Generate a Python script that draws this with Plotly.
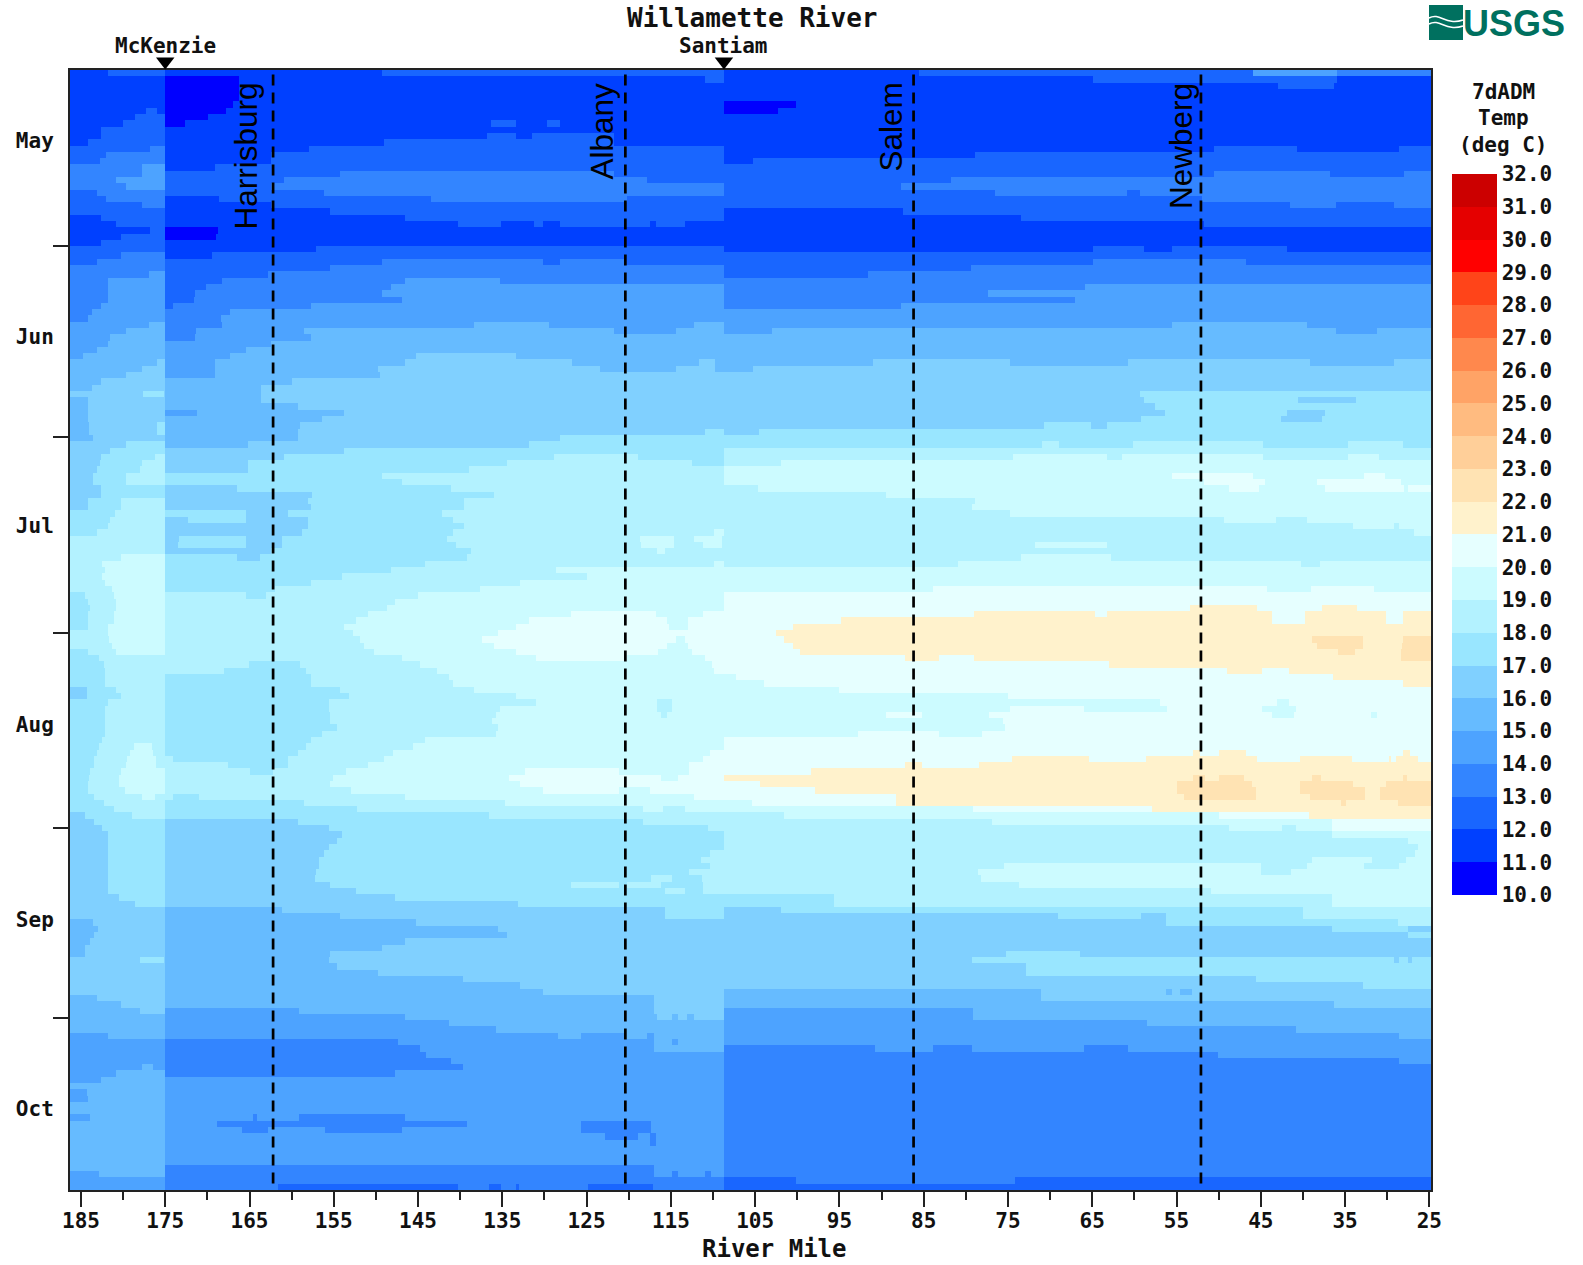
import numpy as np
import plotly.graph_objects as go

# ---- data -----------------------------------------------------------------
# Each reach: (first_row, [bin, mile, bin, mile, bin ...]) read from upstream to
# downstream; a block holds until the next first_row. A bin b means b..b+1 deg C.
REACH_EDGES = [186.3, 175.0, 108.7, 24.8]

REACH_A = [
(0,[11,181.8,12]),(1,[11]),(6,[11,177.3,12,176,11]),(7,[11,178.6,12]),(8,[11,180,12]),(9,[11,182.6,12]),
(11,[11,184.2,12]),(12,[12,176.8,13]),(13,[12,182,13]),(14,[12,182.7,13]),(15,[13,177.7,14]),(17,[13,180.8,14]),
(18,[13,179.7,14]),(19,[12,183.1,13]),(20,[12,182,13]),(21,[12,177.8,13]),(22,[12]),(23,[11,182.6,12]),
(24,[11,180.9,12]),(25,[11,176.8,12]),(26,[11,180.2,12]),(27,[11,182.6,12]),(28,[12]),(29,[12,180.2,13]),
(30,[12,183.1,13]),(31,[13]),(32,[13,176.9,14]),(33,[13,181.8,14]),(37,[13,182.6,14]),(38,[13,183.7,14]),
(39,[13,184.2,14]),(40,[14,176.9,15]),(41,[14,179.7,15]),(42,[14,181.5,15]),(43,[14,181.8,15]),(44,[14,183.1,15]),
(45,[14,184.7,15]),(46,[15,176,16]),(47,[15,177.8,16]),(48,[15,179.7,16]),(49,[15,182.6,16]),(50,[15,183.7,16]),
(51,[16,177.6,17,175.2,16]),(52,[15,184.2,16]),(56,[15,184.1,16,176,17]),(58,[15,183.6,16]),(59,[16,179.7,17]),
(60,[16,181.5,17]),(61,[16,182.6,17,176.25,18]),(62,[16,182.7,17,177.8,18]),(63,[16,183.1,17,177.95,18]),
(64,[16,183.6,17,179.7,18]),(66,[16,182.6,17]),(68,[16,184.2,17,180.2,18]),(70,[17,181,18]),(71,[17,181.5,18]),
(72,[17,181.8,18]),(73,[17,183.1,18]),(74,[18]),(77,[18,180.3,19]),(78,[18,182.45,19]),(79,[18,182.1,19]),
(80,[18,182.45,19]),(81,[18,182.1,19]),(82,[18,181.3,19]),(83,[17,184.5,18,181.1,19]),(84,[17,184.2,18,180.8,19]),
(85,[17,183.9,18,180.9,19]),(86,[17,184.2,18,181.1,19]),(88,[17,184.2,18,181.8,19]),(89,[18,181.8,19]),
(90,[18,181.7,19]),(91,[18,181.3,19]),(92,[17,184.2,18,180.8,19]),(93,[17,182.9,18]),(94,[17,182.3,18]),
(95,[17,182.1,18]),(98,[16,184.3,17,180.8,18]),(99,[16,184.3,17,180.3,18]),(100,[17,181.8,18]),(101,[17,182.1,18]),
(106,[17,182.5,18]),(107,[17,182.9,18,178.75,19,176.6,18]),(108,[17,183.1,18,179.2,19,176.4,18]),
(109,[17,183.5,18,179.5,19,176.1,18]),(110,[17,183.5,18,179.6,19,176.1,18]),(111,[17,183.9,18,180.2,19]),
(112,[17,184.1,18,180.5,19]),(113,[17,184.2,18,180.5,19]),(114,[17,184.2,18,179.8,19]),
(115,[17,183.4,18,177.7,19,176.25,18]),(116,[17,182.3,18]),(117,[17,181.1,18]),(118,[16,184.5,17,179,18]),
(119,[16,183.4,17]),(120,[16,182.5,17]),(121,[16,181.8,17]),(131,[16,180.5,17]),(132,[16,178.6,17]),(133,[16]),
(135,[15,183.6,16]),(136,[15,183,16]),(137,[15,183.5,16]),(138,[15,183.9,16]),(139,[15,184.5,16]),
(141,[16,177.95,17,175.1,16]),(142,[16]),(147,[15,183.1,16]),(148,[15,180.3,16]),(149,[15,177.95,16]),(150,[15]),
(153,[14,181.8,15]),(154,[14]),(158,[14,177.8,15,176.5,14]),(159,[14,180.8,15]),(160,[14,182.6,15]),(161,[15]),
(162,[14,184.3,15]),(163,[14,184.2,15]),(164,[15]),(166,[14,183.9,15]),(167,[15]),(175,[14,182.9,15]),(176,[14]),
]

REACH_B = [
(0,[11,149.3,12]),(1,[10,166.2,11,110.9,12]),(2,[10,166.2,11]),(5,[10,167,11]),(6,[10,167.8,11]),(7,[10,169.9,11]),
(8,[10,172.6,11,136.3,12,133.4,11,129.7,12,128.1,11]),(9,[11]),(10,[11,136.8,12,133.4,11,131.5,12,121.8,11]),
(11,[11,149,12,121.8,11]),(12,[11,157.9,12]),(13,[11,162.5,12]),(15,[11,169.1,12]),(16,[12,154.3,13,121.8,12]),
(17,[12,160.9,13,117.8,12]),(18,[12,162.5,13]),(19,[12,156.2,13]),(20,[11,168.6,12,143.5,13,120.2,12]),
(21,[11,162.5,12]),(22,[11,155.4,12]),(23,[11,146.6,12]),
(24,[11,140.3,12,135.2,11,131.3,12,130.2,11,128.2,12,117.5,11,116.8,12,113.3,11]),(25,[10,168.7,11]),(26,[10,169,11]),
(27,[11]),(28,[11,157.1,12]),(29,[11,169.4,12]),(30,[12,149.3,13,130.2,12,128.2,13,120.4,12]),(31,[12,155.4,13]),
(32,[12,162.8,13]),(33,[12,168.3,13,146.6,14,135.3,13]),(34,[12,170.2,13,148.2,14]),(35,[12,171.5,13,149.3,14]),
(36,[12,171.6,13,146.9,14]),(37,[12,174.1,13,157.7,14]),(38,[13,167.3,14]),(39,[13,168.4,14]),
(40,[13,168.3,14,138.4,15,129.5,14,112.2,15]),(41,[13,171.4,14,158.5,15,121.8,14,114.4,15]),(42,[13,171.5,14,157.7,15]),
(43,[14,162.5,15]),(44,[14,165.4,15]),(45,[14,167.3,15,145.3,16,133.4,15]),
(46,[14,169.1,15,146.6,16,126.7,15,111.7,16,109.8,15]),(47,[14,169.1,15,149.8,16,123.4,15,114.4,16,109.8,15]),
(48,[14,169.1,15,149.5,16]),(49,[15,159.9,16]),(50,[15,163.6,16]),(53,[15,159.3,16]),(54,[14,171.2,15,153.8,16]),
(55,[15,156.4,16]),(56,[15,159,16]),(57,[15,159.3,16,110.9,17]),(58,[15,159.3,16,128.2,17]),(59,[15,165.2,16,131.8,17]),
(60,[16,153.8,17]),(61,[16,160.9,17,128.9,18,118.9,17]),(62,[16,165.2,17,134.5,18,112.5,17]),(63,[16,165.2,17,139,18]),
(64,[17,149.3,18]),(65,[17,146.9,18]),(66,[16,166.5,17,141.1,18]),(67,[16,157.6,17,136,18]),(68,[16,158,17,139.5,18]),
(69,[16,157.7,17,139.5,18]),(70,[17,165.4,16,160.4,17,142.1,18]),(71,[16,172.3,17,165.4,16,158,17,140.8,18]),
(72,[16,158,17,139.5,18]),(73,[16,158.8,17,140.8,18,109.9,19]),
(74,[16,173.4,17,165.4,16,161.2,17,141.6,18,118.7,19,114.6,18,112.2,19,108.9,18]),
(75,[16,173.5,17,165.4,16,161.2,17,140.5,18,118.6,19,114.6,18,111.2,19,108.9,18]),
(76,[16,162.4,17,138.7,18,116.7,19,115.7,18]),(77,[17,166.5,16,163.8,17,139.2,18]),(78,[17,144.2,18,109.9,19]),
(79,[17,148.2,18,128.6,19]),(80,[17,154,18,125,19]),(81,[17,157.7,18,132.9,19]),(82,[17,162,18,137.6,19]),
(83,[18,165.4,17,163,18,145,19]),(84,[18,147.7,19]),(85,[18,148.7,19]),(86,[18,150.9,19,126.8,20,116.8,19,111.2,20]),
(87,[18,152.4,19,131.8,20,115.4,19,113,20]),(88,[18,153.8,19,133.4,20,115.2,19,113,20]),(89,[18,152.7,19,135.5,20]),
(90,[18,151.9,19,137.4,20,114.4,19,113.3,20]),(91,[18,151.4,19,136,20,115.4,19,113,20]),
(92,[18,150.2,19,133.4,20,116.5,19,112.5,20]),(93,[18,146.9,19,131,20,120.2,19,110.9,20]),
(94,[18,165.1,17,159,18,144.8,19,110.1,20]),(95,[18,168,17,158.3,18,142.7,19,109.9,20]),(96,[17,157.7,18,141.3,19]),
(97,[17,157.7,18,140.9,19]),(98,[17,154.3,18,138.4,19]),(99,[17,153.2,18,133.4,19]),
(100,[17,155.6,18,131,19,116.7,18,114.9,19]),(101,[17,155.6,18,135.3,19,116.7,18,114.9,19]),
(102,[17,155.4,18,135.8,19,116.2,18,115.4,19]),(103,[17,155.4,18,136.2,19]),(104,[17,154.6,18,135.5,19]),
(105,[17,156.4,18,135.8,19]),(106,[17,157.7,18,144.2,19]),(107,[17,158.3,18,145.6,19]),(108,[17,159.3,18,148,19,110.4,20]),
(109,[18,174.1,17,160.4,18,149,19,111.2,20]),(110,[18,167.5,17,160.4,18,150.9,19,112.8,20]),
(111,[18,164.9,17,162.2,18,153.5,19,132.3,20,121.2,19,112.8,20]),(112,[18,155.1,19,134.2,20,116.2,19,114.1,20]),
(113,[18,155.4,19,132.9,20]),(114,[18,153,19,130.2,20,121.2,19,117.5,20]),(115,[18,174.1,17,171,18,146.6,19,112.2,20]),
(116,[17,158.5,18,134.7,19]),(117,[17,152.2,18,118.3,19,115.9,18,113.3,19]),(118,[17,136.6,18]),(119,[16,159.3,17,118.3,18]),
(120,[16,155.6,17,110.6,18]),(121,[16,154,17]),(122,[16,154.6,17]),(123,[16,155.6,17]),(124,[16,156.2,17,110.4,18]),
(125,[16,156.7,17,111.4,18]),(126,[16,156.8,17,110.4,18]),(127,[16,157.1,17,112.8,18]),(128,[16,157.2,17,117.3,18,114.9,17,111.3,18]),
(129,[16,155.4,17,126.8,18,121.2,17,120.2,18,116.2,17,111.2,18]),(130,[16,152.4,17,115.7,18,113.3,17,111.2,18]),
(131,[16,147.7,17]),(132,[16,133.1,17]),(133,[15,161.2,16,115.7,17]),(134,[15,154.3,16,115.7,17]),(135,[15,145.3,16]),
(136,[15,135.5,16]),(137,[15,134.5,16]),(138,[15,146.6,16]),(139,[15,149.3,16]),(140,[15,155.4,16]),(141,[15,155.6,16]),
(142,[15,154.6,16]),(143,[15,149.8,16]),(144,[15,139.7,16]),(145,[15,132.9,16]),(146,[15,130.2,16]),(147,[15,117,16]),
(149,[14,159.1,15,117,16]),(150,[14,146.6,15,116.7,16,114.9,15,114.1,16,113.1,15,112.3,16]),(151,[14,141.3,15]),
(152,[14,135.8,15]),(153,[14,128.4,15,125.7,14,120.4,15,117.8,14,117,15]),(154,[13,147.4,14,117,15,114.9,14,114.1,15]),
(155,[13,144.8,14,117,15]),(156,[13,144,14]),(157,[13,141.1,14]),(158,[13,139.7,14]),(159,[13,147.7,14]),(160,[14]),
(166,[14,164.6,13,164.1,14,159.1,13,146.6,14]),(167,[14,168.8,13,139.2,14,125.7,13,117.3,14]),
(168,[14,165.9,13,162.8,14,156,13,146.9,14,125.7,13,117.3,14]),(169,[14,122.8,13,118.9,14,117.5,13,116.8,14]),
(170,[14,117.5,13,116.8,14]),(171,[14]),(174,[13,117,14]),(175,[13,117,14,114.9,13,114.1,14,110.9,13,110.2,14]),(176,[13]),
(177,[13,161.6,12,140.3,13,136.6,12,135.1,13,133.4,12,133,13,124.8,12,117.1,13]),
]

REACH_C = [
(0,[11,85.5,12,45.9,14,36,13]),(1,[11,64.9,12,36,11]),(2,[11,42.9,12,36.3,11]),(3,[11]),(5,[10,100.2,11]),(6,[10,102.3,11]),
(7,[11]),(12,[11,50.5,12,40.7,11,28.6,12]),(13,[11,78.9,12]),(14,[11,105.3,12]),(15,[12]),(16,[12,50.5,13,36.8,12,28,13]),
(17,[12,81.7,13]),(18,[12,87.7,13]),(19,[12,76.5,13,60.9,12,59.3,13]),(20,[12,52,13]),(21,[12,41.5,13,36.1,12,29.2,13]),
(22,[11,87.5,12]),(23,[11,73.4,12]),(24,[11,51.7,12]),(25,[11]),(28,[11,64.9,12,58.8,11,55.5,12,41.9,11]),(29,[12]),
(30,[12,64.9,13,46.7,12]),(31,[12,79.4,13]),(32,[12,91.6,13]),(33,[13]),(34,[13,65.9,14]),(35,[13,77.4,14]),(36,[13,67,14]),
(37,[13,87.7,14]),(38,[14]),(40,[14,55.5,15,39.5,14]),(41,[14,103,15,36.1,14,31.2,15]),(42,[15]),
(46,[15,91,16,74.7,15,60.7,16,39.1,15,29.2,16]),(47,[15,105.3,16]),(48,[16]),(51,[16,59.3,17]),(52,[16,58.8,17,40.6,16,33.7,17]),
(53,[16,57.6,17]),(54,[16,56.4,17,41.9,16,37.4,17]),(55,[16,59.2,17,42.6,16,37.7,17]),(56,[16,70.7,17,65.2,16,63.2,17]),
(57,[16,104.6,17]),(58,[17]),(59,[17,71,18,69,17,60.2,18,44.7,17,34.7,18,28.1,17]),(60,[18]),
(61,[18,74.4,19,63.3,18,61.5,19,44.7,18,34.6,19,31,18]),(62,[18,101.9,19]),(63,[19]),(64,[19,55.5,20,45.9,19,32.7,20,30.2,19]),
(65,[19,51.7,20,44.5,19,38.3,20,28.4,19]),(66,[18,104.7,19,48.8,20,45.2,19,37.4,20,28,19,27.5,20]),(67,[18,89.5,19]),
(68,[18,78.9,19]),(69,[18,79.3,19]),(70,[18,74.8,19]),(71,[18,49.4,19,43.2,18,39.5,19]),(72,[18,34,19,29.2,18,28.6,19]),
(73,[18,26.8,19]),(74,[18]),(75,[18,71.8,19,63.2,18]),(76,[18]),(77,[18,73.4,19,62.8,18]),(78,[18,80.9,19,40.2,18,38,19]),
(79,[19]),(82,[19,83.9,20,44.3,19,39,20,31.6,19]),(83,[20]),(85,[20,53.4,21,45.4,20,37.7,21,33.6,20]),
(86,[20,79,21,64.7,20,63.2,21,43.7,20,39.8,21,30.1,20,28.1,21]),(87,[20,94.8,21,43.7,20,39.8,21,30.1,20,28.1,21]),
(88,[20,100.5,21]),(89,[20,102.5,21]),(90,[20,101.6,21,38.9,22,32.9,21,28.1,22]),(91,[20,100.5,21,38.3,22,32.9,21,28.3,22]),
(92,[20,99.7,21,35.8,22,33.8,21,28.4,22]),(93,[20,87.2,21,83.2,20,79,21,28.4,22]),(94,[20,63,21]),(95,[20,49,21,44.9,20,41.7,21]),
(96,[19,107.3,20,36.4,21]),(97,[19,104,20,28.1,21]),(98,[19,95.1,20]),(99,[19,75,20]),(100,[19,56.9,20,43.1,19,41.7,20]),
(101,[19,74.8,20,66,19,56.1,20,44.9,19,40.8,20]),(102,[19,89.5,20,85.2,19,77.3,20,43.7,19,41,20,31.9,19,31.2,20]),
(103,[19,75.6,20]),(104,[19,75.4,20]),(105,[19,92.8,20,83.2,19,78.1,20]),(106,[20]),
(108,[20,53,21,52.2,20,49.9,21,46.8,20,28.1,21,27.3,20]),
(109,[20,74.5,21,65.4,20,58.6,21,45.4,20,40.4,21,34.2,20,29.8,21,29.5,20,29,21,26.4,20]),(110,[20,87.2,21,85.2,20,78.4,21]),
(111,[20,98.4,21]),(112,[21,53,22,51.6,21,49.9,22,47,21,38.9,22,37.9,21,28.1,22,27.6,21]),
(113,[20,104.4,21,55,22,46,21,40.4,22,34,21,30.1,22]),(114,[20,97.9,21,55,22,45.6,21,40.4,22,32.6,21,30.9,22]),
(115,[20,88.3,21,54.1,22,45.6,21,39.1,22,32.6,21,30.9,22]),(116,[19,105.4,20,88.3,21,35.5,22,34.9,21,28.7,22]),
(117,[19,79.2,20,57.9,21]),(118,[18,101.6,19,49.9,20,39.3,21]),(119,[18,76.9,19,36.6,20]),(120,[18,48.8,19,42.5,18,40.8,19,36.6,20]),
(121,[18,36.6,19]),(122,[18,27.5,19]),(123,[18,26.4,19]),(124,[18,26.7,19]),(125,[18,38.9,19,31.8,18,27.8,19]),
(126,[18,75.5,19,45,18,39.5,19,32.7,18,28.6,19]),(127,[18,78.6,19,45,18,41.4,19]),(128,[18,78.2,19]),(129,[18,73.7,19]),
(130,[18,50.9,19]),(131,[17,95.7,18,36.6,19]),(133,[16,101.9,17,40,18]),(134,[16,69.1,17,59.2,16,56.3,17,40,18]),
(135,[16,56.3,17,28.7,18]),(136,[16,36.6,17,27.5,16]),(137,[16,27.5,17]),(138,[16]),(140,[16,75.2,17,66.5,16]),
(141,[16,79.3,17,29.2,16,28.6,17,27.5,16,27,17]),(142,[16,72.8,17]),(144,[16,45.6,17]),(145,[16,32.9,17]),
(146,[15,71.1,16,56.3,15,55.5,16,54.6,15,53.2,16]),(147,[15,71.1,16]),(148,[15,36.3,16]),(149,[14,79.1,15]),(151,[14,58.5,15]),
(152,[14,40.8,15]),(153,[14,28.6,15]),(154,[14]),(155,[13,90.8,14,83.9,13,79.3,14,66,13,60.7,14]),(156,[13,50.1,14]),
(157,[13,28.6,14]),(158,[13]),(176,[12,100.2,13,74.2,12]),(177,[12]),
]

N_ROWS = 178
LEGEND_COLORS = ["#0000FF","#0040FF","#1966FF","#3385FF","#4DA3FF","#66BBFF","#80D0FF","#99E6FF","#B3F2FF","#CCFBFF",
                 "#E6FFFF","#FFF2CC","#FFE3B3","#FFCF99","#FFBB80","#FFA366","#FF884D","#FF6633","#FF4419","#FF0000",
                 "#E50000","#CC0000"]
LEGEND_VALUES = list(range(10, 33))
MONTHS = ["May", "Jun", "Jul", "Aug", "Sep", "Oct"]
MONTH_CENTER_ROWS = [11.2, 42.3, 72.4, 104, 135, 165]
MONTH_EDGE_ROWS = [28, 58.3, 89.5, 120.5, 150.7]
MAJOR_MILES = [185,175,165,155,145,135,125,115,105,95,85,75,65,55,45,35,25]
MINOR_MILES = [180,170,160,150,140,130,120,110,100,90,80,70,60,50,40,30]
CITIES = ["Harrisburg", "Albany", "Salem", "Newberg"]
CITY_MILES = [162.2, 120.4, 86.2, 52.1]
TRIBS = ["McKenzie", "Santiam"]
TRIB_MILES = [175.0, 108.7]

# ---- grid -----------------------------------------------------------------
W, H = 1583, 1265
L, R, T, B = 70, 1431, 70, 1190
TOP_STRIP = 50
px = lambda v: (v - L) / (R - L)
py = lambda v: 1 - (v - TOP_STRIP) / (B - TOP_STRIP)

reaches = [REACH_A, REACH_B, REACH_C]
edges = set(REACH_EDGES)
for reach in reaches:
    for _, run in reach:
        edges.update(run[1::2])
x_edges = np.array(sorted(edges, reverse=True))
centers = (x_edges[:-1] + x_edges[1:]) / 2
z = np.zeros((N_ROWS, len(centers)))
for i, reach in enumerate(reaches):
    hi, lo = REACH_EDGES[i], REACH_EDGES[i + 1]
    for k, (first, run) in enumerate(reach):
        last = reach[k + 1][0] if k + 1 < len(reach) else N_ROWS
        limits = [hi] + run[1::2] + [lo]
        for v, a, b in zip(run[0::2], limits[:-1], limits[1:]):
            z[first:last, (centers <= a) & (centers > b)] = v + 0.5

n = len(LEGEND_COLORS)
scale = []
for i, c in enumerate(LEGEND_COLORS):
    scale += [[i / n, c], [(i + 1) / n, c]]

MONO = "DejaVu Sans Mono"
DARK = "#222222"
INK = "#111111"
fig = go.Figure()
fig.add_trace(go.Heatmap(
    x=x_edges, y=np.arange(N_ROWS + 1), z=z, zmin=10, zmax=32, colorscale=scale, hoverinfo="skip",
    colorbar=dict(x=px(1452), xanchor="left", xpad=0, ypad=0, y=py(895), yanchor="bottom",
                  lenmode="pixels", len=721, thicknessmode="pixels", thickness=45, outlinewidth=0,
                  tickmode="array", tickvals=LEGEND_VALUES, ticktext=[f"{v:.1f}" for v in LEGEND_VALUES],
                  ticks="", tickfont=dict(family=MONO, size=21, color=INK, weight="bold")),
))
for m in CITY_MILES:
    fig.add_trace(go.Scatter(x=[m, m], y=[0.7, N_ROWS - 0.7], mode="lines", showlegend=False, hoverinfo="skip",
                             line=dict(color="black", width=2.7, dash="11px,7px")))
fig.add_trace(go.Scatter(x=TRIB_MILES, y=[0.42, 0.42], yaxis="y2", mode="markers", cliponaxis=False,
                         showlegend=False, hoverinfo="skip",
                         marker=dict(symbol="triangle-down", size=16, color="black", line_width=0)))

def note(text, x, y, size=21, family=MONO, bold=True, color=INK, xanchor="center", yanchor="middle", **kw):
    fig.add_annotation(text=text, xref="paper", yref="paper", x=px(x), y=py(y), showarrow=False,
                       xanchor=xanchor, yanchor=yanchor,
                       font=dict(family=family, size=size, color=color, weight="bold" if bold else "normal"), **kw)

note("Willamette River", 752, 18, size=26)
note("River Mile", 775, 1249, size=24)
for name, m in zip(TRIBS, TRIB_MILES):
    fig.add_annotation(text=name, x=m, xref="x", y=py(46), yref="paper", showarrow=False, xanchor="center", yanchor="middle",
                       font=dict(family=MONO, size=21, color=INK, weight="bold"))
for t, yy in zip(["7dADM", "Temp", "(deg C)"], [92, 118, 145]):
    note(t, 1503, yy)
for name, xx in zip(CITIES, [246, 602, 891, 1181]):
    note(name, xx, 81, size=31.5, family="Liberation Sans", bold=False, color="black", textangle=-90, yanchor="top")
note("USGS", 1514, 23, size=36, family="Liberation Sans", color="#00705F")

# USGS emblem
TEAL = "#00705F"
shapes = [dict(type="rect", xref="paper", yref="paper", x0=px(1429), x1=px(1463), y0=py(40), y1=py(5),
               fillcolor=TEAL, line_width=0)]
for dy in (0, 6):
    shapes.append(dict(type="path", xref="paper", yref="paper",
                       path=f"M {px(1429)},{py(18+dy)} C {px(1440)},{py(12+dy)} {px(1446)},{py(26+dy)} {px(1463)},{py(20+dy)}",
                       line=dict(color="white", width=1.6)))
tick_font = dict(family=MONO, size=21, color=INK, weight="bold")
fig.update_layout(
    width=W, height=H, margin=dict(l=L, r=W - R, t=TOP_STRIP, b=H - B, pad=0), plot_bgcolor="white", paper_bgcolor="white",
    shapes=shapes,
    xaxis=dict(range=[REACH_EDGES[0], REACH_EDGES[-1]], tickmode="array", tickvals=MAJOR_MILES, ticks="outside", ticklen=15,
               tickwidth=2, tickcolor=DARK, showline=True, linecolor=DARK, linewidth=2, mirror=True, showgrid=False,
               zeroline=False, tickangle=0, tickfont=tick_font, ticklabelstandoff=-4, anchor="y",
               minor=dict(tickmode="array", tickvals=MINOR_MILES, ticks="outside", ticklen=8, tickwidth=2, tickcolor=DARK, showgrid=False)),
    yaxis=dict(range=[N_ROWS, 0], domain=[0, (B - T) / (B - TOP_STRIP)], tickmode="array", tickvals=MONTH_CENTER_ROWS, ticktext=MONTHS,
               ticks="outside", ticklen=10, tickcolor="rgba(0,0,0,0)", showline=True, linecolor=DARK, linewidth=2, mirror=True,
               showgrid=False, zeroline=False, tickfont=tick_font,
               minor=dict(tickmode="array", tickvals=MONTH_EDGE_ROWS, ticks="outside", ticklen=15, tickwidth=2, tickcolor=DARK, showgrid=False)),
    yaxis2=dict(range=[0, 1], domain=[(B - T) / (B - TOP_STRIP), 1], anchor="x", visible=False, fixedrange=True),
)
fig.write_html("out.html", post_script="document.body.style.margin='0';", config={"displayModeBar": False})
